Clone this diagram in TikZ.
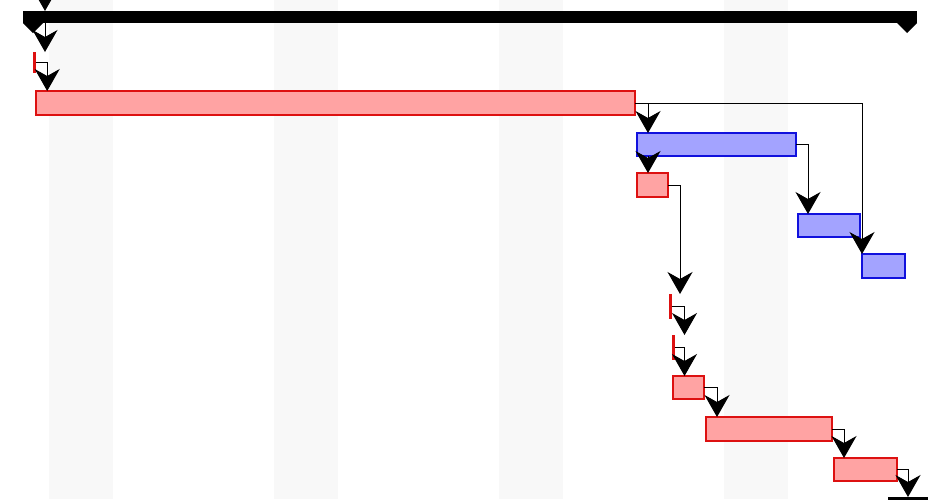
\documentclass[tikz,border=0pt]{standalone}
\usetikzlibrary{arrows.meta}
\definecolor{taskfill}{HTML}{FFA3A3}
\definecolor{taskline}{HTML}{DD1111}
\definecolor{blfill}{HTML}{A3A3FF}
\definecolor{blline}{HTML}{1111DD}
\definecolor{stripe}{HTML}{F8F8F8}
\begin{document}
\begin{tikzpicture}[x=1pt,y=-1pt,
  bar/.style={rectangle, inner sep=0pt, outer sep=0pt, anchor=north west, line width=1.8pt},
  redtask/.style={bar, fill=taskfill, draw=taskline},
  bluetask/.style={bar, fill=blfill, draw=blline},
  milestonebar/.style={bar, fill=taskline, draw=none, minimum width=3.2pt},
  summarybar/.style={bar, fill=black, draw=none},
  conn/.style={draw=black, line width=1pt, -{Stealth[length=22pt,width=25pt,inset=7pt]}},
  stripebox/.style={fill=stripe, draw=none}]
\useasboundingbox (0,0) rectangle (928,499);
\clip (0,0) rectangle (928,499);
% background stripes
\foreach \sx in {49,274,499,724}
  \fill[stripebox] (\sx,0) rectangle (\sx+64,499);
% summary bar
\node[summarybar, minimum width=894pt, minimum height=12pt] (sum) at (23,11) {};
\fill (sum.south west) -- ++(20,0) -- ++(-10,10) -- cycle;
\fill (sum.south east) -- ++(-20,0) -- ++(10,10) -- cycle;
% bottom summary (cut off)
\node[summarybar, minimum width=60pt, minimum height=14pt] (sumb) at (888,497) {};
% tasks
\node[milestonebar, minimum height=21pt] (M0) at (33,52) {};
\node[redtask, minimum width=599pt, minimum height=24pt] (T1) at (36,91) {};
\node[bluetask, minimum width=159pt, minimum height=23pt] (B1) at (637,133) {};
\node[redtask, minimum width=31pt, minimum height=24pt] (T2) at (637,173) {};
\node[bluetask, minimum width=62pt, minimum height=23pt] (B2) at (798,214) {};
\node[bluetask, minimum width=43pt, minimum height=24pt] (B3) at (862,254) {};
\node[milestonebar, minimum height=25pt] (M1) at (668.5,294) {};
\node[milestonebar, minimum height=25pt] (M2) at (671.5,335) {};
\node[redtask, minimum width=31pt, minimum height=23pt] (T3) at (673,376) {};
\node[redtask, minimum width=126pt, minimum height=24pt] (T4) at (706,417) {};
\node[redtask, minimum width=63pt, minimum height=23pt] (T5) at (834,458) {};
% connectors
\coordinate (top) at (45,-20);
\draw[conn] (top) -- (top |- sum.north);
\draw[conn] ([xshift=22pt]sum.south west) -- ([xshift=22pt]sum.south west |- M0.north);
\draw[conn] (M0.east) -| ([xshift=11pt]M0.east |- T1.north);
\draw[conn] (T1.east) -| ([xshift=13pt]T1.east |- B1.north);
\draw[conn] (T1.east) -| ([xshift=227pt]T1.east |- B3.north);
\draw[conn] ([xshift=11pt]B1.south west) -- ([xshift=11pt]B1.south west |- T2.north);
\draw[conn] (B1.east) -| ([xshift=12pt]B1.east |- B2.north);
\draw[conn] (T2.east) -| ([xshift=12pt]T2.east |- M1.north);
\draw[conn] (M1.east) -| ([xshift=12.8pt]M1.east |- M2.north);
\draw[conn] (M2.east) -| ([xshift=9.8pt]M2.east |- T3.north);
\draw[conn] (T3.east) -| ([xshift=13pt]T3.east |- T4.north);
\draw[conn] (T4.east) -| ([xshift=12pt]T4.east |- T5.north);
\draw[conn] (T5.east) -| ([xshift=20pt]sumb.north west);
\end{tikzpicture}
\end{document}
